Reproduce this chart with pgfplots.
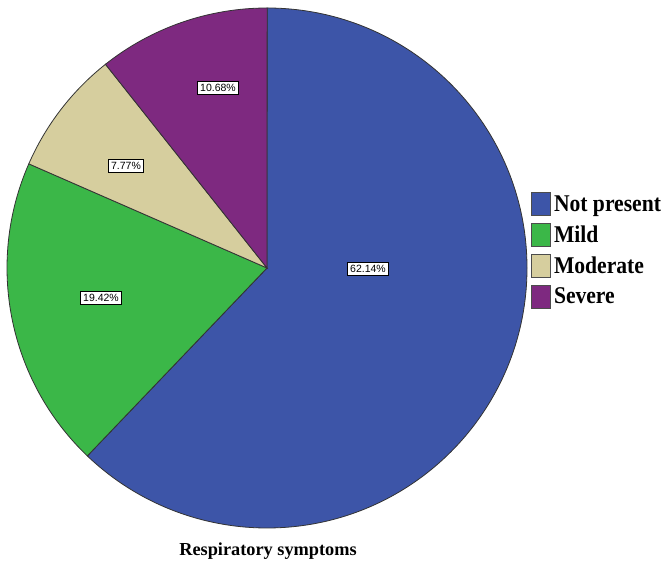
\documentclass[border=0pt]{standalone}
\usepackage{pgfplots}
\pgfplotsset{compat=1.18}
\usepackage{fontspec}
\setmainfont{Liberation Serif}
\newfontfamily\arial{Liberation Sans}
\newfontfamily\legfont{Liberation Serif Bold}[FakeStretch=0.9]

\definecolor{cBlue}{RGB}{61,85,168}
\definecolor{cGreen}{RGB}{59,183,72}
\definecolor{cBeige}{RGB}{214,206,158}
\definecolor{cPurple}{RGB}{126,41,128}

% percentages, clockwise from 12 o'clock
\def\vA{62.14}\def\vB{19.42}\def\vC{7.77}\def\vD{10.68}
\pgfmathsetmacro{\aA}{90}
\pgfmathsetmacro{\aB}{\aA-\vA*3.6}
\pgfmathsetmacro{\aC}{\aB-\vB*3.6}
\pgfmathsetmacro{\aD}{\aC-\vC*3.6}
\pgfmathsetmacro{\aE}{\aD-\vD*3.6}

\begin{document}
\begin{tikzpicture}
\begin{axis}[
  x=1pt, y=1pt,
  xmin=0, xmax=670, ymin=0, ymax=564,
  hide axis, clip=false,
  legend style={at={(axis cs:531,372)}, anchor=north west, draw=none, fill=none,
    font=\legfont\fontsize{24}{26}\selectfont, row sep=7pt, inner sep=0pt,
    cells={anchor=west}, column sep=1pt},
]
\coordinate (sw) at (axis cs:0,0);
\coordinate (ne) at (axis cs:670,564);
\addlegendimage{legend image code/.code={\draw[fill=cBlue, draw=black!70, line width=0.8pt] (0pt,-11.5pt) rectangle (19pt,11.5pt);}}
\addlegendentry{Not present}
\addlegendimage{legend image code/.code={\draw[fill=cGreen, draw=black!70, line width=0.8pt] (0pt,-11.5pt) rectangle (19pt,11.5pt);}}
\addlegendentry{Mild}
\addlegendimage{legend image code/.code={\draw[fill=cBeige, draw=black!70, line width=0.8pt] (0pt,-11.5pt) rectangle (19pt,11.5pt);}}
\addlegendentry{Moderate}
\addlegendimage{legend image code/.code={\draw[fill=cPurple, draw=black!70, line width=0.8pt] (0pt,-11.5pt) rectangle (19pt,11.5pt);}}
\addlegendentry{Severe}

\filldraw[fill=cBlue, draw=black!80, line width=0.8pt] (axis cs:267,296) -- ++(\aA:260pt) arc[start angle=\aA, end angle=\aB, radius=260pt] -- cycle;
\filldraw[fill=cGreen, draw=black!80, line width=0.8pt] (axis cs:267,296) -- ++(\aB:260pt) arc[start angle=\aB, end angle=\aC, radius=260pt] -- cycle;
\filldraw[fill=cBeige, draw=black!80, line width=0.8pt] (axis cs:267,296) -- ++(\aC:260pt) arc[start angle=\aC, end angle=\aD, radius=260pt] -- cycle;
\filldraw[fill=cPurple, draw=black!80, line width=0.8pt] (axis cs:267,296) -- ++(\aD:260pt) arc[start angle=\aD, end angle=\aE, radius=260pt] -- cycle;

\tikzset{lab/.style={fill=white, draw=black, line width=0.8pt, inner xsep=3pt, inner ysep=2.5pt, font=\arial\fontsize{10.5}{11}\selectfont}}
\node[lab] at (axis cs:368,295) {62.14\%};
\node[lab] at (axis cs:101,266) {19.42\%};
\node[lab] at (axis cs:126,398) {7.77\%};
\node[lab] at (axis cs:218,476) {10.68\%};

\node[font=\fontsize{18.3}{20}\selectfont\bfseries] at (axis cs:268,13) {Respiratory symptoms};
\end{axis}
\pgfresetboundingbox
\useasboundingbox (sw) rectangle (ne);
\end{tikzpicture}
\end{document}
